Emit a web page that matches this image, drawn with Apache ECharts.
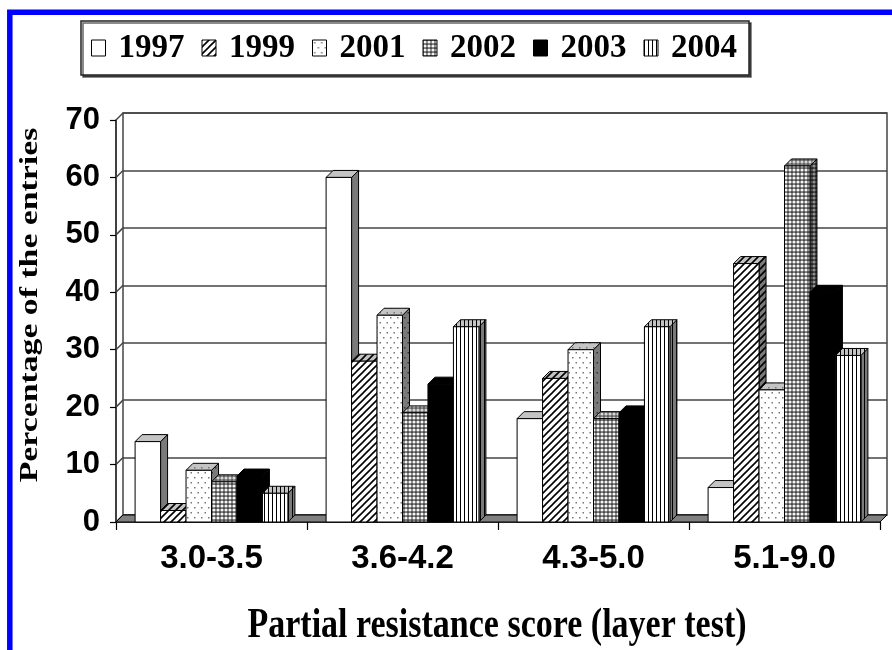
<!DOCTYPE html>
<html><head><meta charset="utf-8">
<script src="https://cdn.jsdelivr.net/npm/echarts@6/dist/echarts.min.js"></script>
<style>html,body{margin:0;padding:0;background:#fff}#c{width:892px;height:650px}</style>
</head><body><div id="c"></div>
<script>
// ---- data ----
const categories = ['3.0-3.5', '3.6-4.2', '4.3-5.0', '5.1-9.0'];
const years = ['1997', '1999', '2001', '2002', '2003', '2004'];
const v1997 = [14, 60, 18, 6];
const v1999 = [2, 28, 25, 45];
const v2001 = [9, 36, 30, 23];
const v2002 = [7, 19, 18, 62];
const v2003 = [8, 24, 19, 40];
const v2004 = [5, 34, 34, 29];
const yTicks = [0, 10, 20, 30, 40, 50, 60, 70];
const yTitle = 'Percentage of the entries';
const xTitle = 'Partial resistance score (layer test)';

const seriesValues = [v1997, v1999, v2001, v2002, v2003, v2004];
const kinds = ['plain', 'hatch', 'dots', 'check', 'solid', 'vlines'];
const DEPTH = 7;
const GAP = 0.2;

function makeCanvas(w, h, draw) {
  const c = document.createElement('canvas');
  c.width = w; c.height = h;
  draw(c.getContext('2d'));
  return c;
}
function fillFor(kind, face) {
  const bgs = { front: '#ffffff', top: '#c4c4c4', side: '#7a7a7a' };
  const bg = bgs[face];
  if (kind === 'solid') return '#000';
  if (kind === 'plain') return bg;
  let c;
  if (kind === 'hatch') {
    c = makeCanvas(7, 7, g => {
      g.fillStyle = bg; g.fillRect(0, 0, 7, 7);
      g.strokeStyle = '#000'; g.lineWidth = 1.6; g.beginPath();
      g.moveTo(-1, 8); g.lineTo(8, -1);
      g.moveTo(-1, 1); g.lineTo(1, -1);
      g.moveTo(6, 8); g.lineTo(8, 6);
      g.stroke();
    });
  } else if (kind === 'dots') {
    c = makeCanvas(7, 10, g => {
      g.fillStyle = bg; g.fillRect(0, 0, 7, 10);
      g.fillStyle = face === 'side' ? '#333' : '#777';
      g.fillRect(1.5, 2, 1.5, 1.5); g.fillRect(5, 7, 1.5, 1.5);
    });
  } else if (kind === 'check') {
    const cfg = { front: ['#4a4a4a', '#f4f4f4'], top: ['#606060', '#d8d8d8'], side: ['#262626', '#909090'] }[face];
    c = makeCanvas(4, 4, g => {
      g.fillStyle = cfg[0]; g.fillRect(0, 0, 4, 4);
      g.fillStyle = cfg[1]; g.beginPath(); g.arc(2, 2, 1.6, 0, Math.PI * 2); g.fill();
    });
  } else if (kind === 'vlines') {
    c = makeCanvas(4, 4, g => {
      g.fillStyle = bg; g.fillRect(0, 0, 4, 4);
      g.fillStyle = '#000'; g.fillRect(0, 0, 1, 4);
    });
  }
  return { image: c, repeat: 'repeat' };
}
const fills = kinds.map(k => ({ front: fillFor(k, 'front'), top: fillFor(k, 'top'), side: fillFor(k, 'side') }));

function barRender(s) {
  return function (params, api) {
    const ci = api.value(0), v = api.value(1);
    const base = api.coord([ci, 0]);
    const top = api.coord([ci, v]);
    const band = api.size([1, 0])[0];
    const n = years.length;
    const w = band * (1 - GAP) / n;
    const x0 = base[0] - band * (1 - GAP) / 2 + s * w;
    const x1 = x0 + w;
    const y0 = base[1], y1 = top[1];
    const d = DEPTH;
    const st = { stroke: '#000', lineWidth: 1 };
    return {
      type: 'group', children: [
        { type: 'polygon', shape: { points: [[x1, y1], [x1 + d, y1 - d], [x1 + d, y0 - d], [x1, y0]] }, style: Object.assign({ fill: fills[s].side }, st) },
        { type: 'polygon', shape: { points: [[x0, y1], [x1, y1], [x1 + d, y1 - d], [x0 + d, y1 - d]] }, style: Object.assign({ fill: fills[s].top }, st) },
        { type: 'rect', shape: { x: x0, y: y1, width: w, height: y0 - y1 }, style: Object.assign({ fill: fills[s].front }, st) }
      ]
    };
  };
}

const barSeries = years.map((y, s) => ({
  name: y, type: 'custom', xAxisIndex: 0, yAxisIndex: 0,
  itemStyle: { color: fills[s].front, borderColor: '#000', borderWidth: 1 },
  encode: { x: 0, y: 1 },
  data: categories.map((c, i) => [c, seriesValues[s][i]]),
  renderItem: barRender(s)
}));

const wallSeries = {
  name: 'wall', type: 'custom', xAxisIndex: 0, yAxisIndex: 0, silent: true,
  encode: { x: 0, y: 1 },
  data: yTicks.map(t => [categories[0], t]),
  renderItem: function (params, api) {
    const cs = params.coordSys;
    const y = api.coord([api.value(0), api.value(1)])[1];
    return { type: 'line', shape: { x1: cs.x, y1: y, x2: cs.x + DEPTH, y2: y - DEPTH }, style: { stroke: '#444', lineWidth: 1.5 } };
  }
};
const floorSeries = {
  name: 'floor', type: 'custom', xAxisIndex: 0, yAxisIndex: 0, silent: true,
  encode: { x: 0, y: 1 },
  data: [[categories[0], 0]],
  renderItem: function (params, api) {
    const cs = params.coordSys;
    const y0 = api.coord([api.value(0), 0])[1];
    const d = DEPTH;
    return { type: 'polygon', shape: { points: [[cs.x, y0], [cs.x + cs.width, y0], [cs.x + cs.width + d, y0 - d], [cs.x + d, y0 - d]] }, style: { fill: '#808080', stroke: '#000', lineWidth: 1 } };
  }
};

const chart = echarts.init(document.getElementById('c'), null, { renderer: 'canvas' });
chart.setOption({
  animation: false,
  backgroundColor: '#fff',
  grid: [
    { left: 116, top: 120, right: 12, bottom: 128, outerBoundsMode: 'none', containLabel: false },
    { left: 123, top: 113, right: 5, bottom: 135, outerBoundsMode: 'none', containLabel: false, show: true, borderColor: '#444', borderWidth: 1.5, backgroundColor: '#fff' }
  ],
  xAxis: [
    { type: 'category', gridIndex: 0, data: categories, boundaryGap: true,
      axisLine: { show: true, lineStyle: { color: '#000', width: 1.5 } },
      axisTick: { show: true, length: 8, lineStyle: { color: '#000', width: 1.2 } },
      axisLabel: { fontFamily: 'Liberation Sans', fontWeight: 'bold', fontSize: 33, color: '#000', margin: 20 },
      splitLine: { show: false } },
    { type: 'category', gridIndex: 1, data: categories, show: false }
  ],
  yAxis: [
    { type: 'value', gridIndex: 0, min: 0, max: 70, interval: 10,
      axisLine: { show: true, lineStyle: { color: '#000', width: 1.5 } },
      axisTick: { show: true, length: 6, lineStyle: { color: '#000', width: 1.2 } },
      axisLabel: { fontFamily: 'Liberation Sans', fontWeight: 'bold', fontSize: 31, color: '#000', margin: 16 },
      splitLine: { show: false } },
    { type: 'value', gridIndex: 1, min: 0, max: 70, interval: 10,
      axisLine: { show: false }, axisTick: { show: false }, axisLabel: { show: false },
      splitLine: { show: true, lineStyle: { color: '#444', width: 1.5 } } }
  ],
  legend: {
    data: years, left: 81, top: 21, orient: 'horizontal', selectedMode: false,
    icon: 'rect', itemWidth: 14, itemHeight: 16, itemGap: 17,
    padding: [8, 12, 8, 10], borderColor: '#222', borderWidth: 1.5, backgroundColor: '#fff',
    shadowColor: 'rgba(0,0,0,0.6)', shadowOffsetX: 2, shadowOffsetY: 2, shadowBlur: 0,
    itemStyle: { borderColor: '#000', borderWidth: 1 },
    textStyle: { fontFamily: 'Liberation Serif', fontWeight: 'bold', fontSize: 33, color: '#000', padding: [0, 0, 0, 8], lineHeight: 38 }
  },
  graphic: [
    { type: 'rect', z: 100, silent: true, shape: { x: 9.8, y: 12.2, width: 1000, height: 1000 }, style: { fill: 'none', stroke: '#0000ff', lineWidth: 5.5 } },
    { type: 'text', x: 31, y: 305, rotation: Math.PI / 2, scaleX: 1.35, silent: true,
      style: { text: yTitle, fontFamily: 'Liberation Serif', fontWeight: 'bold', fontSize: 25, fill: '#000', align: 'center', verticalAlign: 'middle' } },
    { type: 'text', x: 497, y: 626, scaleY: 1.25, silent: true,
      style: { text: xTitle, fontFamily: 'Liberation Serif', fontWeight: 'bold', fontSize: 34, fill: '#000', align: 'center', verticalAlign: 'middle' } }
  ],
  series: [wallSeries, floorSeries].concat(barSeries)
});
</script>
</body></html>
